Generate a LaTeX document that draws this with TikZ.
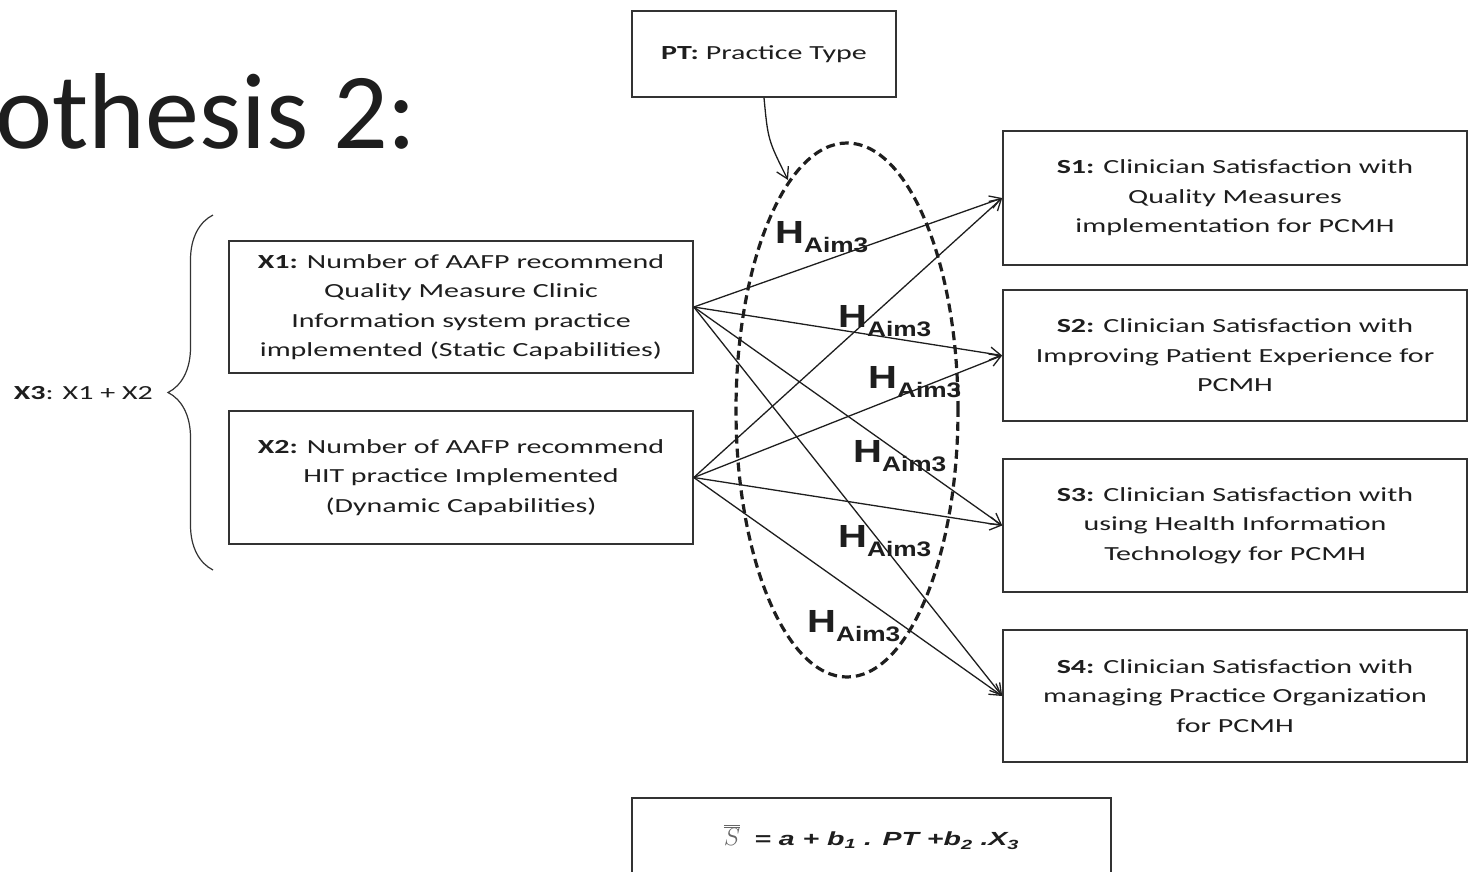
\documentclass[tikz,border=0pt]{standalone}
\usepackage{fontspec}
\setmainfont{Carlito}
\newfontfamily\boxfont[FakeStretch=1.5]{Carlito}
\newfontfamily\sumfont[FakeStretch=1.5]{Carlito}
\newfontfamily\eqfont[FakeStretch=1.5]{Liberation Sans}
\newfontfamily\hfont[FakeStretch=1.25]{Liberation Sans}
\usepackage{tikz}
\usetikzlibrary{positioning,arrows.meta,shapes.geometric,decorations.pathreplacing}
\definecolor{ink}{HTML}{1E1E1E}
\definecolor{frame}{HTML}{333333}
\newcommand{\haim}{H\raisebox{-9pt}{\fontsize{21}{21}\selectfont Aim3}}
\tikzset{
  varbox/.style={draw=frame, line width=1.6pt, minimum width=464pt, inner sep=0pt, align=center, text=ink, font={\boxfont\fontsize{20}{29.5}\selectfont}},
  ptbox/.style ={varbox, minimum width=264pt, minimum height=86pt},
  eqbox/.style ={draw=frame, line width=1.6pt, minimum width=479pt, minimum height=78pt, inner sep=0pt, text=ink},
  hyp/.style   ={ellipse, draw=ink, line width=3.2pt, dash pattern=on 9pt off 5pt, minimum width=222pt, minimum height=534pt, inner sep=0pt},
  edge/.style  ={-{Straight Barb[length=11pt,width=13pt]}, line width=1.3pt, draw=ink},
  hlab/.style  ={anchor=base west, inner sep=0pt, text=ink, font={\hfont\bfseries\fontsize{32}{32}\selectfont}},
}

\begin{document}
\begin{tikzpicture}[x=1pt,y=-1pt]
  \useasboundingbox (0,0) rectangle (1470,871);
  \node[anchor=base east, inner sep=0pt, text=ink, font=\fontsize{108}{108}\selectfont] (ttl) at (417,148) {othesis 2:};

  \node[ptbox] (pt) at (764,54) {\textbf{PT:} Practice Type};
  \node[varbox, minimum height=132pt] (x1) at (461,307) {\textbf{X1:} Number of AAFP recommend\\Quality Measure Clinic\\Information system practice\\implemented (Static Capabilities)};
  \node[varbox, minimum height=133pt] (x2) at (461,477.5) {\textbf{X2:} Number of AAFP recommend\\HIT practice Implemented\\(Dynamic Capabilities)};
  \node[varbox, minimum height=134pt] (s1) at (1235,198) {\textbf{S1:} Clinician Satisfaction with\\Quality Measures\\implementation for PCMH};
  \node[varbox, minimum height=131pt] (s2) at (1235,355.5) {\textbf{S2:} Clinician Satisfaction with\\Improving Patient Experience for\\PCMH};
  \node[varbox, minimum height=133pt] (s3) at (1235,525.5) {\textbf{S3:} Clinician Satisfaction with\\using Health Information\\Technology for PCMH};
  \node[varbox, minimum height=132pt] (s4) at (1235,696) {\textbf{S4:} Clinician Satisfaction with\\managing Practice Organization\\for PCMH};
  \node[eqbox] (eq) at (871.5,837) {{\color{black!60}\fontsize{28}{28}\selectfont$\overline{\overline{S}}$}\hspace{14pt}{\eqfont\bfseries\itshape\fontsize{19}{19}\selectfont = a + b\textsubscript{1} . PT +b\textsubscript{2} .X\textsubscript{3}}};

  % X3 = X1 + X2 brace
  \coordinate (brb) at (213,570);
  \coordinate (brt) at (213,215);
  \draw[frame, line width=1.2pt, decorate, decoration={brace, amplitude=45pt}] (brb) -- (brt);
  \node[anchor=east, inner sep=0pt, text=ink, font={\sumfont\fontsize{20}{20}\selectfont}] (x3) at (153,393) {\textbf{X3}: X1 + X2};

  % moderator
  \node[hyp] (mod) at (847,410) {};
  \coordinate (hin) at (788,180);
  \draw[edge] (pt.south) .. controls (768,140) .. (hin);

  \draw[edge] (x1.east) -- (s1.west);
  \draw[edge] (x1.east) -- (s2.west);
  \draw[edge] (x1.east) -- (s3.west);
  \draw[edge] (x1.east) -- (s4.west);
  \draw[edge] (x2.east) -- (s1.west);
  \draw[edge] (x2.east) -- (s2.west);
  \draw[edge] (x2.east) -- (s3.west);
  \draw[edge] (x2.east) -- (s4.west);

  \node[hlab] (h1) at (775,243) {\haim};
  \node[hlab] (h2) at (838,327) {\haim};
  \node[hlab] (h3) at (868,388) {\haim};
  \node[hlab] (h4) at (853,462) {\haim};
  \node[hlab] (h5) at (838,547) {\haim};
  \node[hlab] (h6) at (807,632) {\haim};
\end{tikzpicture}
\end{document}
